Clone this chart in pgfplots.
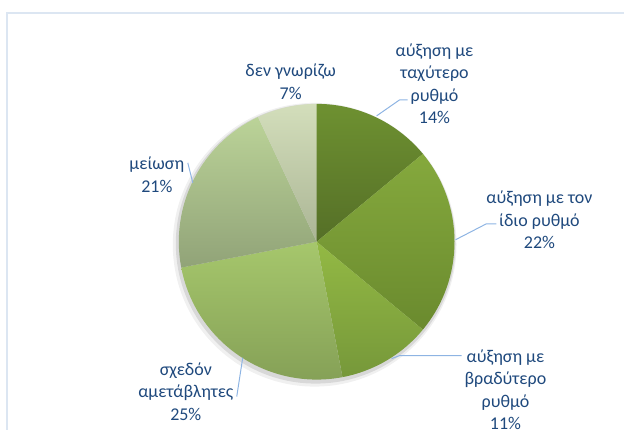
\documentclass[border=0pt]{standalone}
\usepackage{pgfplots}
\pgfplotsset{compat=1.18}
\usepackage{pgfplotstable}
\usepackage{fontspec}
\setmainfont{Carlito}

\definecolor{txt}{HTML}{1F497D}
\definecolor{lead}{HTML}{8EB4E3}
\definecolor{frame}{HTML}{DCE6F2}
\definecolor{s1t}{HTML}{6E9131}\definecolor{s1b}{HTML}{556F27}
\definecolor{s2t}{HTML}{85A93D}\definecolor{s2b}{HTML}{6A8A2E}
\definecolor{s3t}{HTML}{93B944}\definecolor{s3b}{HTML}{76983A}
\definecolor{s4t}{HTML}{A6C76C}\definecolor{s4b}{HTML}{849F56}
\definecolor{s5t}{HTML}{BBD398}\definecolor{s5b}{HTML}{91A378}
\definecolor{s6t}{HTML}{D3DEBB}\definecolor{s6b}{HTML}{ABB595}

% share of each answer, in %
\pgfplotstableread{
id value
1 14
2 22
3 11
4 25
5 21
6 7
}\piedata

% slice boundaries, clockwise from 12 o'clock
\def\cum{90}
\expandafter\xdef\csname pieang0\endcsname{90}
\foreach \i in {0,...,5}{
  \pgfplotstablegetelem{\i}{value}\of\piedata
  \pgfmathsetmacro\cum{\cum-3.6*\pgfplotsretval}
  \xdef\cum{\cum}
  \expandafter\xdef\csname pieang\the\numexpr\i+1\endcsname{\cum}
}
\def\A#1{\csname pieang#1\endcsname}

\begin{document}
\begin{tikzpicture}
\begin{axis}[
  hide axis,
  x=0.75pt, y=0.75pt,
  xmin=0, xmax=625, ymin=0, ymax=430,
  y dir=reverse,
  clip=false,
]
\path (axis cs:0,0) (axis cs:625,430);
% frame
\draw[frame, line width=1pt] (axis cs:7,430) -- (axis cs:7,13) -- (axis cs:625,13);

% soft shadow
\fill[black, opacity=0.06] (axis cs:315,245) circle[radius=106.5pt];
\fill[black, opacity=0.10] (axis cs:316,244) circle[radius=105pt];

\def\R{103.5pt}
\def\slice#1#2#3{%
  \shade[top color=s#3t, bottom color=s#3b]
    (axis cs:317,242) -- ++(\A{#1}:\R) arc[start angle=\A{#1}, end angle=\A{#2}, radius=\R] -- cycle;}
\slice{0}{1}{1}
\slice{1}{2}{2}
\slice{2}{3}{3}
\slice{3}{4}{4}
\slice{4}{5}{5}
\slice{5}{6}{6}

% leader lines
\draw[lead, line width=0.75pt] (axis cs:377,116) -- (axis cs:400,100) -- (axis cs:408,100);
\draw[lead, line width=0.75pt] (axis cs:456,240) -- (axis cs:487,224) -- (axis cs:497,224);
\draw[lead, line width=0.75pt] (axis cs:392,359) -- (axis cs:400,356) -- (axis cs:462,356);
\draw[lead, line width=0.75pt] (axis cs:243,358) -- (axis cs:237,397);
\draw[lead, line width=0.75pt] (axis cs:193,183) -- (axis cs:188,163);

% labels
\begin{scope}[every node/.style={text=txt, align=center, inner sep=0pt,
    font=\fontsize{13.5}{16.8}\selectfont}]
\node at (axis cs:435,84) {αύξηση με\\ταχύτερο\\ρυθμό\\14\%};
\node at (axis cs:540,220) {αύξηση με τον\\ίδιο ρυθμό\\22\%};
\node at (axis cs:506,390) {αύξηση με\\βραδύτερο\\ρυθμό\\11\%};
\node at (axis cs:186,392) {σχεδόν\\αμετάβλητες\\25\%};
\node at (axis cs:157,175) {μείωση\\21\%};
\node at (axis cs:291,82) {δεν γνωρίζω\\7\%};
\end{scope}
\end{axis}
\end{tikzpicture}
\end{document}
